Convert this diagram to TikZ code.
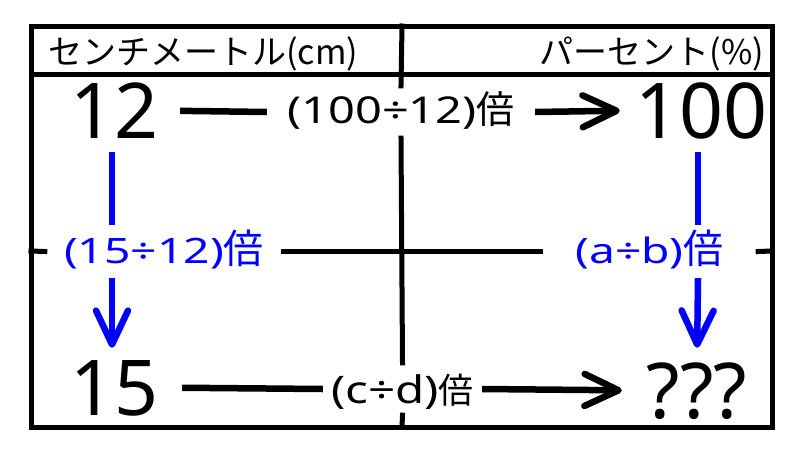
\documentclass[tikz,border=0pt]{standalone}
\usepackage{fontspec}
\setmainfont{Noto Sans CJK JP}
\newfontfamily\latbig{Noto Sans}
\newfontfamily\latA{Noto Sans}[FakeStretch=1.27]
\newfontfamily\latB{Noto Sans}[FakeStretch=1.32]
\newfontfamily\latC{Noto Sans}[FakeStretch=1.25]
\usetikzlibrary{arrows.meta}
\newcommand{\bai}[1]{{\fontsize{#1}{#1}\rmfamily 倍}}
\tikzset{
  grid/.style={line width=5pt, line cap=rect},
  conn/.style={line width=6.5pt},
  barb/.style={-{Straight Barb[length=34pt,width=32pt,round]}},
  big/.style={font=\fontsize{77pt}{80pt}\latbig, inner sep=0pt, anchor=base,
    text height=55pt, text depth=0pt, align=center},
  hdr/.style={font=\fontsize{34pt}{38pt}\selectfont, inner sep=0pt, anchor=base},
  lab/.style={fill=white, inner sep=0pt, anchor=base, align=center},
  bluelab/.style={lab, text=blue, font=\fontsize{35pt}{42pt}\latB,
    text height=38pt, text depth=15pt},
}
\begin{document}
\begin{tikzpicture}[x=1pt,y=-1pt]
\useasboundingbox (0,0) rectangle (800,450);
% frame
\coordinate (TL) at (31,26);
\coordinate (BR) at (772,427);
\coordinate (HL) at (31,74);
\coordinate (HR) at (772,74);
\coordinate (VT) at (402,26);
\coordinate (VB) at (402,427);
\coordinate (ML) at (31,251);
\coordinate (MR) at (772,251);
% texts
\node[hdr, anchor=base west] (hL) at (48,64) {センチメートル(cm)};
\node[hdr, anchor=base east] (hR) at (764,64) {パーセント(\%)};
\node[big, text width=84pt] (n12) at (112,138) {12};
\node[big, text width=126pt] (n100) at (698,138) {100};
\node[big, text width=84pt] (n15) at (112,415) {15};
\node[big, text width=106pt] (nq) at (697,418) {???};
\node[lab, font=\fontsize{37pt}{41pt}\latA, text width=268pt,
  text height=37pt, text depth=15pt] (l1) at (401,123) {(100÷12)\bai{38pt}};
\node[lab, font=\fontsize{38pt}{40pt}\latC, text width=159pt,
  text height=40pt, text depth=12pt] (l2) at (402.5,403) {(c÷d)\bai{35pt}};
\node[bluelab, text width=238pt] (bL) at (164,263) {(15÷12)\bai{40pt}};
\node[bluelab, text width=217pt] (bR) at (649.5,263) {(a÷b)\bai{40pt}};
% grid lines
\draw[grid] (TL) rectangle (BR);
\draw[grid] (HL) -- (HR);
\draw[grid] (VT) -- (l1.north);
\draw[grid] (l1.south) -- (l2.north);
\draw[grid] (l2.south) -- (VB);
\draw[grid] (ML) -- (bL.west);
\draw[grid] (bL.east) -- (bR.west);
\draw[grid] (bR.east) -- (MR);
% connectors
\draw[conn, shorten <=26pt] (n12.east) -- (l1.west);
\draw[conn, barb, shorten >=15pt] (l1.east) -- (n100.west);
\draw[conn, shorten <=28pt] (n15.east) -- (l2.west);
\draw[conn, barb, shorten >=22pt] (l2.east) -- (nq.west);
\draw[conn, blue, shorten <=14pt] (n12.south) -- (n12.south |- bL.north);
\draw[conn, blue, barb, shorten >=12pt] (n12.south |- bL.south) -- (n15.north);
\draw[conn, blue, shorten <=14pt] (n100.south) -- (n100.south |- bR.north);
\draw[conn, blue, barb, shorten >=15pt] (n100.south |- bR.south) -- (nq.north);
\end{tikzpicture}
\end{document}
